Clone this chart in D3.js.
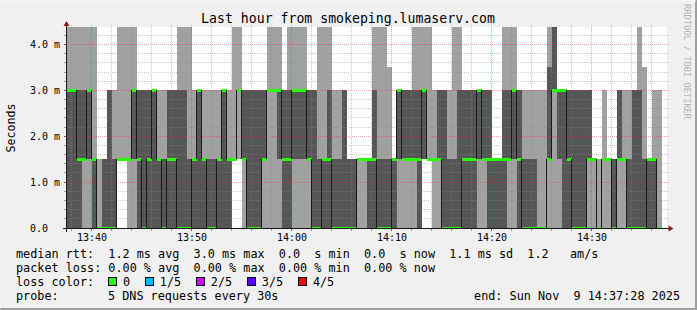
<!DOCTYPE html>
<html>
<head>
<meta charset="utf-8">
<script src="https://cdn.jsdelivr.net/npm/d3@7"></script>
<style>
body { margin: 0; background: #f0f0f0; }
text { font-family: "DejaVu Sans Mono", monospace; white-space: pre; }
</style>
</head>
<body>
<svg id="chart" width="697" height="310"></svg>
<script>
// smokeping graph, 5 pings every 30s, one column per round

var H = 4.8;   // ping above the top of the graph (clipped)

// sorted pings of each round, in ms (null = no data yet)
var pingLo = [0,0,0,0,0,0,0,0,0,0, 1.5,1.5,0,0,0,0,0,0,0,0,
  0,0,0,0,0,0,0,0,0,0, 0,0,0,1.5,1.5,0,0,0,0,0,
  0,0,0,0,0,0,0,0,0,0, 0,0,0,0,0,0,0,0,0,0,
  0,0,0,0,0,0,0,0,0,0, 0,1.5,1.5,0,0,0,0,0,0,0,
  0,0,0,0,0,0,0,0,0,0, 0,0,0,0,0,0,0,0,0,0,
  0,0,0,0,0,0,0,0,0,0, 0,0,0,0,0,0,0,0,0,null];
var ping2 = [0,0,0,1.5,1.5,0,0,0,0,0, 1.5,1.5,1.5,1.5,0,0,0,0,0,0,
  0,0,0,0,0,0,0,0,0,0, 0,0,0,1.5,3,1.5,0,0,0,1.5,
  3,3,1.5,0,0,1.5,1.5,1.5,1.5,0, 0,0,0,0,0,0,0,0,1.5,1.5,
  0,0,0,0,0,0,1.5,1.5,1.5,1.5, 0,1.5,1.5,1.5,1.5,0,0,0,0,0,
  0,0,1.5,1.5,0,0,0,0,1.5,1.5, 0,0,0,0,0,0,1.5,3,1.5,0,
  0,0,0,0,1.5,1.5,0,1.5,1.5,0, 1.5,1.5,0,0,0,0,0,0,0,null];
var median = [3,3,1.5,1.5,3,1.5,0,0,0,0, 1.5,1.5,1.5,3,1.5,0,1.5,3,1.5,0,
  1.5,1.5,0,0,0,1.5,3,1.5,0,0, 1.5,3,1.5,1.5,3,1.5,0,0,0,1.5,
  3,3,3,1.5,1.5,3,3,3,1.5,0, 0,1.5,1.5,0,0,0,0,0,1.5,1.5,
  1.5,1.5,0,0,0,1.5,3,1.5,1.5,1.5, 1.5,3,1.5,1.5,1.5,0,0,0,0,1.5,
  1.5,1.5,3,1.5,1.5,1.5,1.5,1.5,1.5,3, 1.5,0,0,0,0,0,1.5,3,3,3,
  1.5,0,0,0,1.5,1.5,0,1.5,1.5,0, 1.5,1.5,0,0,0,0,1.5,1.5,0,null];
var ping4 = [3,3,3,3,3,1.5,0,1.5,3,1.5, 1.5,1.5,1.5,3,3,3,3,3,1.5,1.5,
  3,3,3,3,1.5,1.5,3,1.5,1.5,1.5, 1.5,3,1.5,1.5,3,3,3,3,3,3,
  3,3,3,3,3,3,3,3,3,3, 1.5,1.5,3,1.5,1.5,3,1.5,1.5,1.5,1.5,
  1.5,3,1.5,1.5,1.5,1.5,3,3,3,3, 3,3,1.5,1.5,3,3,1.5,1.5,3,3,
  3,3,3,3,3,1.5,1.5,3,3,3, 3,1.5,1.5,1.5,0,0,3.52,H,3,3,
  3,3,3,3,3,1.5,0,1.5,1.5,1.5, 3,1.5,1.5,3,3,1.5,1.5,1.5,0,null];
var pingHi = [H,H,H,H,H,H,1.5,1.5,3,3, H,H,H,H,3,3,3,3,3,3,
  3,3,H,H,H,3,3,3,3,3, 3,3,3,H,H,3,3,3,3,3,
  H,H,H,3,H,H,H,H,3,3, H,H,H,3,3,3,1.5,1.5,1.5,1.5,
  1.5,H,H,H,3.52,1.5,3,3,3,H, H,H,H,3,3,3,3,H,H,3,
  3,3,3,3,3,1.5,1.5,H,H,H, 3,3,3,3,3,3,H,H,3,3,
  3,3,3,3,3,1.5,1.5,3,1.5,1.5, 3,3,3,3,H,3.52,1.5,3,3,null];

var yTicks = [0, 1, 2, 3, 4];
var yTickLabels = ["0.0", "1.0 m", "2.0 m", "3.0 m", "4.0 m"];

var rttStats = ["1.2 ms avg", "3.0 ms max", "0.0  s min", "0.0  s now", "1.1 ms sd", "1.2   am/s"];
var lossStats = ["0.00 % avg", "0.00 % max", "0.00 % min", "0.00 % now"];
var lossLabels = ["0", "1/5", "2/5", "3/5", "4/5"];
var lossColors = ["#26ff00", "#00b8ff", "#d600ff", "#5e00ff", "#ff0000"];

var TITLE = "Last hour from smokeping.lumaserv.com";
var PROBE = "5 DNS requests every 30s";
var END = "end: Sun Nov  9 14:37:28 2025";

var tStart = new Date(2025, 10, 9, 13, 37, 28);
var tEnd = new Date(2025, 10, 9, 14, 37, 28);
var STEP = 30; // seconds

var LIGHT = "#a1a1a1", DARK = "#565656";
var CW = 7.11; // legend char width

var svg = d3.select("#chart");

// background + 3d frame
svg.append("rect").attr("width", 697).attr("height", 310).attr("fill", "#f0f0f0");
svg.append("path").attr("d", "M0,309H696V0").attr("fill", "none")
  .attr("stroke", "#9e9e9e").attr("stroke-width", 2);
svg.append("path").attr("d", "M0,309V1H696").attr("fill", "none")
  .attr("stroke", "#f8f8f8").attr("stroke-width", 1);

var x = d3.scaleTime().domain([tStart, tEnd]).range([66.67, 666.67]);
var y = d3.scaleLinear().domain([0, 4.377]).range([228, 27.3]);

// canvas
svg.append("rect").attr("x", 67).attr("y", 27).attr("width", 600).attr("height", 201)
  .attr("fill", "#ffffff");
svg.append("clipPath").attr("id", "plot").append("rect")
  .attr("x", 67).attr("y", 27).attr("width", 600).attr("height", 201);

var samples = median.map(function(m, i){
  var t0 = new Date(2025, 10, 9, 13, 37, 30 + STEP * i);
  var t1 = new Date(2025, 10, 9, 13, 37, 30 + STEP * (i + 1));
  return {x0: Math.round(x(t0)), x1: Math.round(x(t1)),
          lo: pingLo[i], p2: ping2[i], med: m, p4: ping4[i], hi: pingHi[i]};
}).filter(function(d){ return d.med !== null; });

// smoke
var smoke = svg.append("g").attr("clip-path", "url(#plot)").attr("shape-rendering", "crispEdges");
smoke.selectAll(".light").data(samples).enter().append("rect")
  .attr("x", function(d){ return d.x0; })
  .attr("width", function(d){ return d.x1 - d.x0; })
  .attr("y", function(d){ return y(d.hi); })
  .attr("height", function(d){ return y(d.lo) - y(d.hi); })
  .attr("fill", LIGHT);
smoke.selectAll(".dark").data(samples).enter().append("rect")
  .attr("x", function(d){ return d.x0; })
  .attr("width", function(d){ return d.x1 - d.x0; })
  .attr("y", function(d){ return y(d.p4); })
  .attr("height", function(d){ return y(d.p2) - y(d.p4); })
  .attr("fill", DARK);

// grid
var grid = svg.append("g").attr("shape-rendering", "crispEdges");
d3.range(1, 22).forEach(function(i){
  var v = i * 0.2, major = i % 5 === 0;
  var yy = Math.floor(y(v)) + 0.5;
  var col = major ? "rgba(205,60,60,0.45)" : "rgba(140,140,140,0.45)";
  grid.append("line").attr("x1", 64).attr("x2", 670).attr("y1", yy).attr("y2", yy)
    .attr("stroke", col).attr("stroke-dasharray", "1,1");
  grid.append("line").attr("x1", 64).attr("x2", 66).attr("y1", yy).attr("y2", yy)
    .attr("stroke", major ? "#b04040" : "#9a9a9a");
});
d3.timeMinute.every(2).range(tStart, tEnd).forEach(function(t){
  var major = t.getMinutes() % 10 === 0;
  var xx = Math.round(x(t)) - 0.5;
  var col = major ? "rgba(205,60,60,0.45)" : "rgba(140,140,140,0.45)";
  grid.append("line").attr("x1", xx).attr("x2", xx).attr("y1", 25).attr("y2", 230)
    .attr("stroke", col).attr("stroke-dasharray", "1,1");
  grid.append("line").attr("x1", xx).attr("x2", xx).attr("y1", 229).attr("y2", 231)
    .attr("stroke", major ? "#b04040" : "#9a9a9a");
});

// median rtt, coloured by loss (all rounds had 0 loss)
var med = svg.append("g").attr("clip-path", "url(#plot)").attr("shape-rendering", "crispEdges");
med.selectAll(".seg").data(samples).enter().append("rect")
  .attr("x", function(d){ return d.x0; })
  .attr("width", function(d){ return d.x1 - d.x0; })
  .attr("y", function(d){ return Math.round(y(d.med)) - 1.5; })
  .attr("height", 3)
  .attr("fill", lossColors[0]);
var steps = samples.filter(function(d, i){ return i > 0 && d.med !== samples[i - 1].med; });
med.selectAll(".step").data(steps).enter().append("line")
  .attr("x1", function(d){ return d.x0 - 0.5; })
  .attr("x2", function(d){ return d.x0 - 0.5; })
  .attr("y1", function(d){ return y(d.med); })
  .attr("y2", function(d){ return y(samples[samples.indexOf(d) - 1].med); })
  .attr("stroke", "#1a1a1a");

// axes
svg.append("line").attr("x1", 63).attr("x2", 670).attr("y1", 228.5).attr("y2", 228.5)
  .attr("stroke", "#1a1a1a").attr("shape-rendering", "crispEdges");
svg.append("line").attr("x1", 66.5).attr("x2", 66.5).attr("y1", 232).attr("y2", 25)
  .attr("stroke", "#1a1a1a").attr("shape-rendering", "crispEdges");
svg.append("path").attr("d", "M673.5,228.5L668.5,225.5L668.5,231.5Z").attr("fill", "#8b1c1c");
svg.append("path").attr("d", "M66.5,21L63.5,26L69.5,26Z").attr("fill", "#8b1c1c");

// axis labels
svg.selectAll(".ylab").data(yTicks).enter().append("text")
  .attr("x", 30).attr("y", function(d){ return Math.floor(y(d)) + 4; })
  .attr("font-size", "10px").attr("fill", "#000")
  .text(function(d, i){ return yTickLabels[i]; });
svg.selectAll(".xlab").data(d3.timeMinute.every(10).range(tStart, tEnd)).enter().append("text")
  .attr("x", function(d){ return x(d); }).attr("y", 241)
  .attr("text-anchor", "middle").attr("font-size", "10px").attr("fill", "#000")
  .text(d3.timeFormat("%H:%M"));

svg.append("text").attr("transform", "translate(15,128) rotate(-90)")
  .attr("text-anchor", "middle").attr("font-size", "11.6px").attr("fill", "#000")
  .text("Seconds");
svg.append("text").attr("x", 348).attr("y", 23).attr("text-anchor", "middle")
  .attr("font-size", "13.2px").attr("fill", "#000").text(TITLE);
svg.append("text").attr("transform", "translate(684,4) rotate(90)")
  .attr("font-size", "8.7px").attr("fill", "#b4b4b4").text("RRDTOOL / TOBI OETIKER");

// legend
var leg = svg.append("g").attr("font-size", "11.8px").attr("fill", "#000");
leg.append("text").attr("x", 16).attr("y", 258).text("median rtt:  " + rttStats.join("  "));
leg.append("text").attr("x", 16).attr("y", 272).text("packet loss: " + lossStats.join("  "));
leg.append("text").attr("x", 16).attr("y", 286).text("loss color:");
var lx = 108;
lossLabels.forEach(function(l, i){
  leg.append("rect").attr("x", lx + 0.5).attr("y", 277.5).attr("width", 8).attr("height", 8)
    .attr("fill", lossColors[i]).attr("stroke", "#000").attr("shape-rendering", "crispEdges");
  leg.append("text").attr("x", lx + 15).attr("y", 286).text(l);
  lx = lx + 15 + l.length * CW + 14.7;
});
leg.append("text").attr("x", 16).attr("y", 300).text("probe:");
leg.append("text").attr("x", 108).attr("y", 300).text(PROBE);
leg.append("text").attr("x", 680).attr("y", 300).attr("text-anchor", "end").text(END);
</script>
</body>
</html>
